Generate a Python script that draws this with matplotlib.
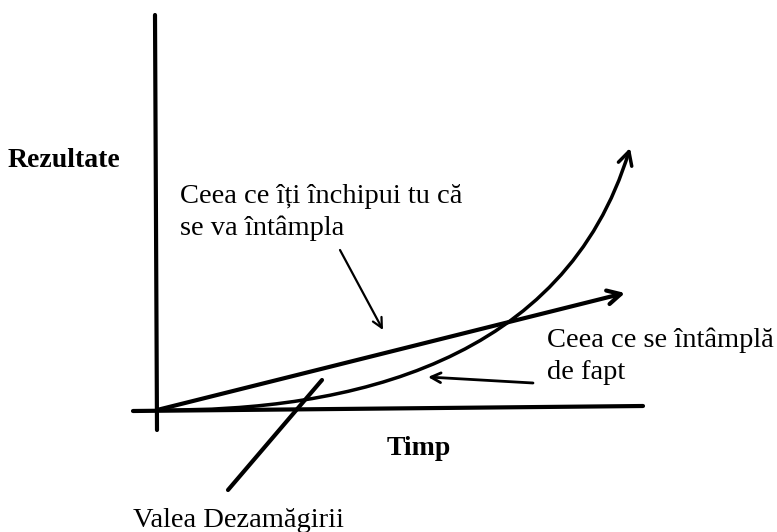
import matplotlib
matplotlib.use("Agg")
import matplotlib.pyplot as plt
from matplotlib.patches import FancyArrowPatch
from matplotlib.path import Path

plt.rcParams['font.family'] = ['Liberation Serif', 'DejaVu Serif']

# Diagram coordinates (canvas units, y grows downward)
y_axis_x = [157, 155]
y_axis_y = [430, 15]
x_axis_x = [133, 643]
x_axis_y = [411, 406]

expected_x = [157, 625]
expected_y = [410, 293]

# cubic Bezier control points for the "actual" curve
actual_x = [157, 350, 565, 630]
actual_y = [410, 412, 362, 148]

valley_x = [228, 322]
valley_y = [490, 380]

y_title = 'Rezultate'
x_title = 'Timp'
expected_lines = ['Ceea ce îți închipui tu că', 'se va întâmpla']
actual_lines = ['Ceea ce se întâmplă', 'de fapt']
valley_label = 'Valea Dezamăgirii'

fig = plt.figure(figsize=(7.77, 5.32), dpi=100)
ax = fig.add_axes([0, 0, 1, 1])
ax.set_xlim(0, 777)
ax.set_ylim(532, 0)
ax.axis('off')

k = 'black'
head = '->,head_length=0.95,head_width=0.5'
ax.plot(y_axis_x, y_axis_y, color=k, lw=3.0, solid_capstyle='round')
ax.plot(x_axis_x, x_axis_y, color=k, lw=3.0, solid_capstyle='round')

# expected straight line with arrow
ax.annotate('', xy=(expected_x[1], expected_y[1]), xytext=(expected_x[0], expected_y[0]),
            arrowprops=dict(arrowstyle=head, lw=3.0, color=k, shrinkA=0, shrinkB=0))

# actual curve (smooth Bezier) with arrow
curve = Path(list(zip(actual_x, actual_y)),
             [Path.MOVETO, Path.CURVE4, Path.CURVE4, Path.CURVE4])
ax.add_patch(FancyArrowPatch(path=curve, arrowstyle=head, mutation_scale=10,
                             lw=2.5, color=k, shrinkA=0, shrinkB=0,
                             capstyle='round', joinstyle='round'))

# valley pointer
ax.plot(valley_x, valley_y, color=k, lw=3.0, solid_capstyle='round')

# pointer arrows
ax.annotate('', xy=(383, 330), xytext=(340, 250),
            arrowprops=dict(arrowstyle='->,head_length=0.7,head_width=0.35', lw=1.6, color=k,
                            shrinkA=0, shrinkB=0))
ax.annotate('', xy=(428, 377), xytext=(533, 383),
            arrowprops=dict(arrowstyle='->,head_length=0.7,head_width=0.35', lw=2.0, color=k,
                            shrinkA=0, shrinkB=0))

fs = 20.5
bfs = 20
ax.text(8, 167, y_title, fontsize=bfs, fontweight='bold', ha='left', va='baseline')
ax.text(387, 455, x_title, fontsize=bfs, fontweight='bold', ha='left', va='baseline')
for i, line in enumerate(expected_lines):
    ax.text(180, 203 + 32 * i, line, fontsize=fs, ha='left', va='baseline')
for i, line in enumerate(actual_lines):
    ax.text(547, 347 + 32 * i, line, fontsize=fs, ha='left', va='baseline')
ax.text(133, 527, valley_label, fontsize=fs, ha='left', va='baseline')

fig.savefig('out.png', dpi=100)
